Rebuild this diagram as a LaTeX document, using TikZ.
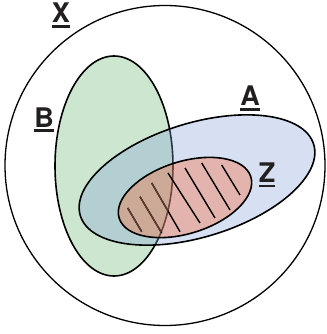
\documentclass[tikz,border=0pt]{standalone}
\usepackage{fontspec}
\setmainfont{TeX Gyre Heros}
\definecolor{setB}{RGB}{205,230,207}
\definecolor{setA}{RGB}{130,161,215}
\definecolor{setZ}{RGB}{251,101,45}
\definecolor{hatchB}{RGB}{92,60,48}
\definecolor{ink}{RGB}{35,31,32}
\newcommand{\ulabel}[1]{\setbox0=\hbox{#1}\vtop{\hbox{\copy0}\kern2.5pt\hrule height 2.8pt width \wd0}}
\tikzset{
  setlabel/.style={anchor=base, text=ink, inner sep=0pt,
    font=\fontsize{27}{32}\selectfont\bfseries},
  setline/.style={draw=black, line width=1.6pt}
}
\begin{document}
\begin{tikzpicture}[x=1pt, y=-1pt]

% ---------- frame (pixel grid of the source, y pointing down) ----------
\useasboundingbox (0,0) rectangle (326,334);

% ---------- universe X ----------
\draw[line width=1.3pt] (165,165.5) circle [radius=160];

% ---------- set B (upright ellipse) ----------
\path[fill=setB] (114,166) ellipse [x radius=59, y radius=110];
\draw[setline] (114,166) ellipse [x radius=59, y radius=110];

% ---------- set A (tilted ellipse, fill shows B through it) ----------
\path[fill=setA, fill opacity=0.33, rotate around={17:(197,180)}]
  (197,180) ellipse [x radius=122, y radius=57];
\draw[setline, rotate around={17:(197,180)}]
  (197,180) ellipse [x radius=122, y radius=57];

% ---------- subset Z ----------
\path[fill=setZ, fill opacity=0.35, rotate around={17.5:(185,197.5)}]
  (185,197.5) ellipse [x radius=69, y radius=36];

% ---------- hatching of Z ----------
\foreach \xa/\ya/\xb/\yb in {127.7/208/141.7/231.7, 140/196.7/161.7/233,
    151.7/183/180/231.7, 168/173/200/223, 185/168/215/218,
    201.7/163/230/210, 221.7/165/240/195}
  \draw[line width=1.4pt, draw=black] (\xa,\ya) -- (\xb,\yb);
\begin{scope}
  \clip (114,166) ellipse [x radius=59, y radius=110];
  \foreach \xa/\ya/\xb/\yb in {127.7/208/141.7/231.7, 140/196.7/161.7/233,
      151.7/183/180/231.7}
    \draw[line width=1.4pt, draw=hatchB] (\xa,\ya) -- (\xb,\yb);
\end{scope}
\draw[setline, rotate around={17.5:(185,197.5)}]
  (185,197.5) ellipse [x radius=69, y radius=36];

% ---------- set names ----------
\node[setlabel] (lblX) at (61,23) {\ulabel{X}};
\node[setlabel] (lblB) at (44,127) {\ulabel{B}};
\node[setlabel] (lblA) at (250,106) {\ulabel{A}};
\node[setlabel] (lblZ) at (267,182) {\ulabel{Z}};

\end{tikzpicture}
\end{document}
